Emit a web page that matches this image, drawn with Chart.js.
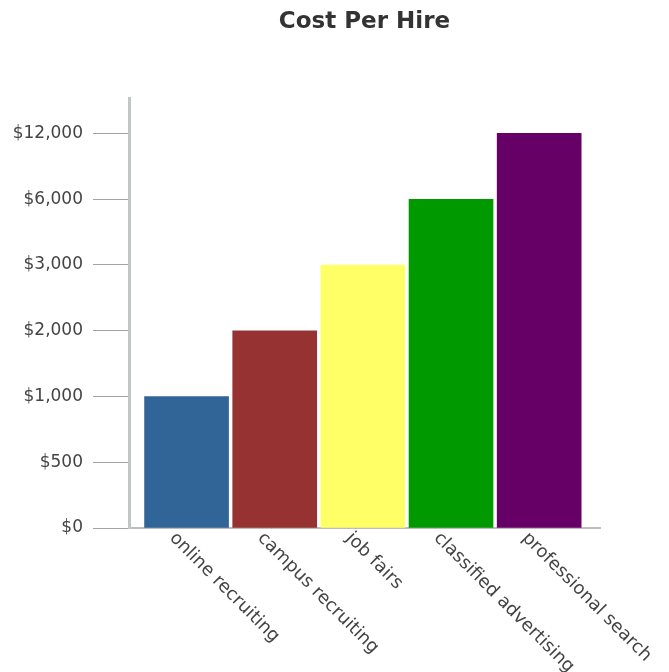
<!DOCTYPE html>
<html>
<head>
<meta charset="utf-8">
<title>Cost Per Hire</title>
<script src="https://cdn.jsdelivr.net/npm/chart.js@4.4.1/dist/chart.umd.min.js"></script>
<style>
  html, body { margin: 0; padding: 0; background: #fff; }
  #wrap { width: 669px; height: 672px; position: relative; }
</style>
</head>
<body>
<div id="wrap"><canvas id="costChart"></canvas></div>
<script>
const categories = ['online recruiting', 'campus recruiting', 'job fairs', 'classified advertising', 'professional search'];
const costs = [1000, 2000, 3000, 6000, 12000];
const barColors = ['#316497', '#963232', '#ffff66', '#009900', '#660066'];
// the y axis is evenly spaced between these values
const yTickValues = [0, 500, 1000, 2000, 3000, 6000, 12000];
const yTickLabels = ['$0', '$500', '$1,000', '$2,000', '$3,000', '$6,000', '$12,000'];

// position of a dollar value on the stepped axis (piecewise linear between ticks)
function toLevel(v) {
  for (let i = 1; i < yTickValues.length; i++) {
    if (v <= yTickValues[i]) {
      const lo = yTickValues[i - 1], hi = yTickValues[i];
      return i - 1 + (v - lo) / (hi - lo);
    }
  }
  return yTickValues.length - 1;
}

const xLabelPlugin = {
  id: 'xLabels',
  afterDraw(chart) {
    const ctx = chart.ctx;
    const xScale = chart.scales.x;
    const top = chart.chartArea.bottom + 1;
    ctx.save();
    ctx.font = '18px "DejaVu Sans"';
    ctx.fillStyle = '#444';
    ctx.textAlign = 'left';
    ctx.textBaseline = 'top';
    categories.forEach(function(label, i) {
      ctx.save();
      ctx.translate(xScale.getPixelForValue(i) - 8, top);
      ctx.rotate(Math.PI / 4);
      ctx.fillText(label, 0, 0);
      ctx.restore();
    });
    ctx.restore();
  }
};

const ctx = document.getElementById('costChart').getContext('2d');
const costChart = new Chart(ctx, {
  type: 'bar',
  data: {
    datasets: [{
      label: 'Cost Per Hire',
      data: costs.map(function(c, i) { return { x: i, y: toLevel(c) }; }),
      backgroundColor: barColors,
      borderWidth: 0,
      barThickness: 84
    }]
  },
  options: {
    responsive: true,
    maintainAspectRatio: false,
    animation: false,
    layout: { padding: { top: 0, left: 0, right: 69, bottom: 136 } },
    plugins: {
      legend: { display: false },
      tooltip: { enabled: false },
      title: {
        display: true,
        text: 'Cost Per Hire',
        fullSize: false,
        color: '#333',
        font: { family: 'DejaVu Sans', size: 23, weight: 'bold' },
        padding: { top: 8, bottom: 63 }
      }
    },
    scales: {
      x: {
        type: 'linear',
        offset: false,
        min: -0.653,
        max: 4.69,
        grid: { display: false, offset: false },
        ticks: { display: false },
        border: { display: true, color: '#bdbdbd', width: 2 }
      },
      y: {
        type: 'linear',
        min: 0,
        max: 6.53,
        afterBuildTicks: function(axis) {
          axis.ticks = yTickLabels.map(function(l, i) { return { value: i }; });
        },
        afterFit: function(axis) { axis.width = 129; },
        ticks: {
          padding: 10,
          color: '#444',
          font: { family: 'DejaVu Sans', size: 17 },
          callback: function(v) { return yTickLabels[v]; }
        },
        grid: {
          drawOnChartArea: false,
          drawTicks: true,
          tickLength: 36,
          tickColor: '#a99fa9',
          lineWidth: 1
        },
        border: { display: true, color: '#c3c7c3', width: 3 }
      }
    }
  },
  plugins: [xLabelPlugin]
});
</script>
</body>
</html>
